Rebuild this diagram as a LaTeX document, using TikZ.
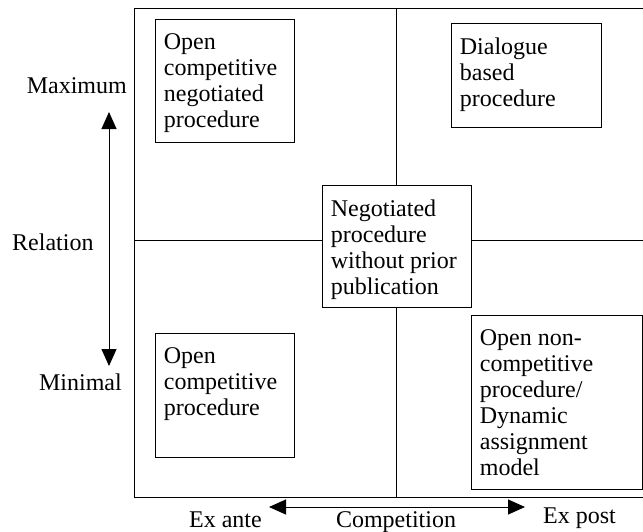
\documentclass[tikz,border=0pt]{standalone}
\usepackage{fontspec}
\setmainfont{Liberation Serif}
\usetikzlibrary{arrows.meta}
\newcommand\qbox[3]{\parbox[c][\dimexpr#2pt-28pt\relax][t]{\dimexpr#1pt-17pt\relax}{\raggedright\fontsize{24}{26}\selectfont #3}}
\tikzset{
  qbox/.style={draw, line width=0.8pt, anchor=north west, inner xsep=8.5pt, inner ysep=14pt},
  lab/.style={font=\fontsize{24}{26}\selectfont, inner sep=0pt},
  frame/.style={draw, line width=1pt, anchor=north west, inner sep=0pt},
  axis/.style={line width=1pt, {Triangle[width=15pt,length=17pt]}-{Triangle[width=15pt,length=17pt]}},
  divider/.style={line width=1pt}
}
\begin{document}
\begin{tikzpicture}[x=1pt,y=-1pt]
\useasboundingbox (0,0) rectangle (643,531);
\node[frame, minimum width=530pt, minimum height=489pt] (outer) at (134,8) {};
\node[qbox] (tl) at (155,19) {\qbox{139}{123}{Open\\competitive\\negotiated\\procedure}};
\node[qbox] (tr) at (451,23) {\qbox{150}{104}{Dialogue\\based\\procedure}};
\node[qbox, fill=white] (ctr) at (322,185) {\qbox{149}{122}{Negotiated\\procedure\\without prior\\publication}};
\node[qbox] (bl) at (155,333) {\qbox{139}{124}{Open\\competitive\\procedure}};
\node[qbox] (br) at (471,315) {\qbox{171}{174}{Open non-\\competitive\\procedure/\\Dynamic\\assignment\\model}};
\draw[divider] (ctr.north) -- (ctr.north |- outer.north);
\draw[divider] (ctr.south) -- (ctr.south |- outer.south);
\draw[divider] (outer.west |- 0,240) -- (ctr.west |- 0,240);
\draw[divider] (ctr.east |- 0,240) -- (outer.east |- 0,240);
\node[lab, anchor=base east] (max) at (127,93) {Maximum};
\node[lab, anchor=base west] (rel) at (12,250) {Relation};
\node[lab, anchor=base east] (min) at (122,390) {Minimal};
\node[lab, anchor=base east] (exa) at (262,527) {Ex ante};
\node[lab, anchor=base] (comp) at (396,527) {Competition};
\node[lab, anchor=base west] (exp) at (543,523) {Ex post};
\coordinate (rtop) at (109,112);
\coordinate (rbot) at (109,366);
\coordinate (cleft) at (269,507);
\coordinate (cright) at (525,507);
\draw[axis] (rtop) -- (rbot);
\draw[axis] (cleft) -- (cright);
\end{tikzpicture}
\end{document}
